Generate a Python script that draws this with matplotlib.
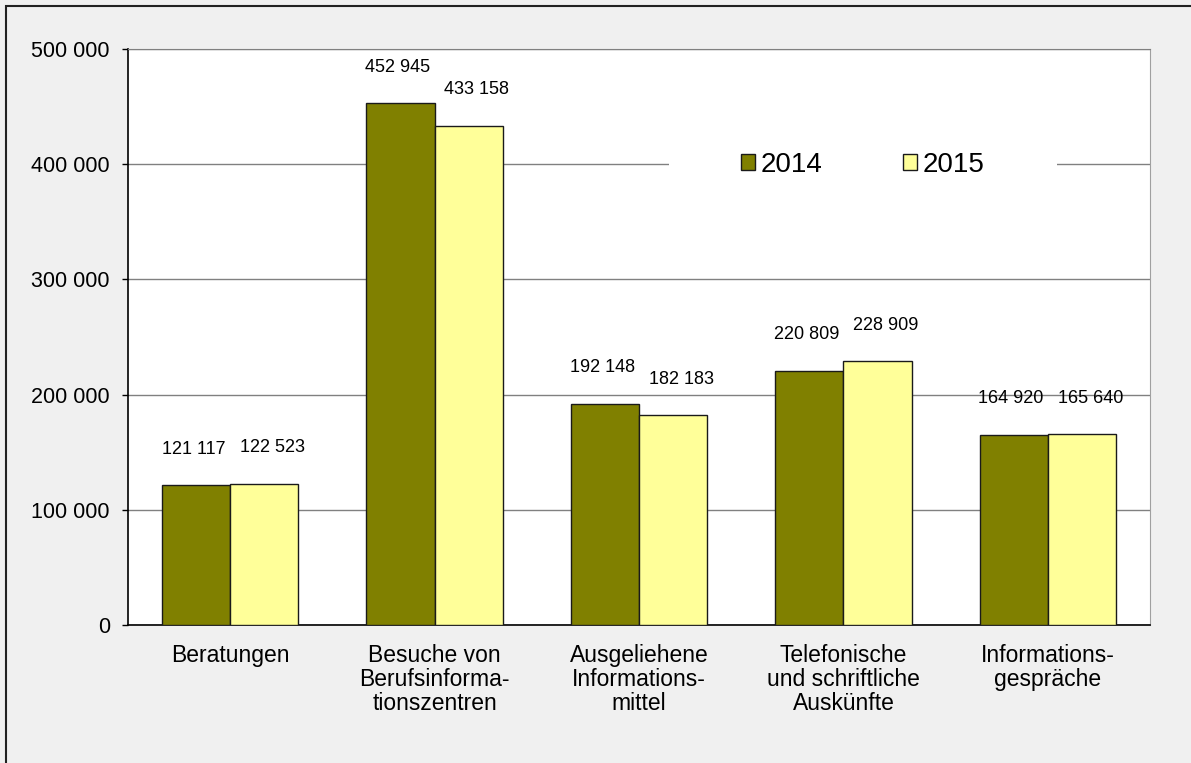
import matplotlib
matplotlib.use("Agg")
import matplotlib.pyplot as plt
import numpy as np
from matplotlib.ticker import FuncFormatter, MultipleLocator
from matplotlib.patches import Rectangle

plt.rcParams['font.family'] = ['Liberation Sans', 'DejaVu Sans']

categories = ["Beratungen",
              "Besuche von\nBerufsinforma-\ntionszentren",
              "Ausgeliehene\nInformations-\nmittel",
              "Telefonische\nund schriftliche\nAuskünfte",
              "Informations-\ngespräche"]
years = ["2014", "2015"]
values_2014 = [121117, 452945, 192148, 220809, 164920]
values_2015 = [122523, 433158, 182183, 228909, 165640]

def fmt(v, pos=None):
    return "{:,}".format(int(v)).replace(",", " ")

fig = plt.figure(figsize=(11.91, 7.63), dpi=100, facecolor="#f0f0f0")
# outer frame (only top and left visible in the crop)
fig.patches.append(Rectangle((6 / 1191, -0.1), 1.2, 1 - 6 / 763 + 0.1,
                             transform=fig.transFigure, fill=False,
                             edgecolor="#222222", linewidth=1.5))

ax = fig.add_axes([128 / 1191, 1 - 625 / 763, (1150 - 128) / 1191, (625 - 49) / 763])
ax.set_facecolor("white")

x = np.arange(len(categories))
w = 1 / 3
b1 = ax.bar(x - w / 2, values_2014, w, color="#808000", edgecolor="#1a1a1a",
            linewidth=1, label=years[0], zorder=3)
b2 = ax.bar(x + w / 2, values_2015, w, color="#ffff99", edgecolor="#1a1a1a",
            linewidth=1, label=years[1], zorder=3)

for bars, dx in ((b1, -2), (b2, 6)):
    for r in bars:
        ax.annotate(fmt(r.get_height()), (r.get_x() + r.get_width() / 2, r.get_height()),
                    xytext=(dx, 26), textcoords="offset points", ha="center", va="center",
                    fontsize=13)

ax.set_xlim(-0.5, len(categories) - 0.5)
ax.set_ylim(0, 500000)
ax.yaxis.set_major_locator(MultipleLocator(100000))
ax.yaxis.set_major_formatter(FuncFormatter(fmt))
ax.grid(axis="y", color="#808080", linewidth=1, zorder=0)
ax.set_axisbelow(True)

ax.set_xticks(x)
ax.set_xticklabels(categories, fontsize=16.5, linespacing=1.05)
ax.tick_params(axis="x", length=0, pad=14)
ax.tick_params(axis="y", length=4, width=1, pad=9, labelsize=15.5, color="black")

for s in ("left", "bottom"):
    ax.spines[s].set_color("black")
    ax.spines[s].set_linewidth(1.2)
ax.spines["top"].set_color("#808080")
ax.spines["right"].set_color("#a0a0a0")

leg = ax.legend(ncol=2, loc="center", bbox_to_anchor=(0.719, 0.799), fontsize=20,
                frameon=True, fancybox=False, framealpha=1, facecolor="white",
                edgecolor="none", handlelength=0.5, handleheight=0.5,
                handletextpad=0.2, columnspacing=2.9, borderpad=2.6)
leg.get_frame().set_linewidth(0)
for h in leg.legend_handles:
    h.set_linewidth(1)

fig.savefig("out.png", dpi=100, facecolor=fig.get_facecolor())
